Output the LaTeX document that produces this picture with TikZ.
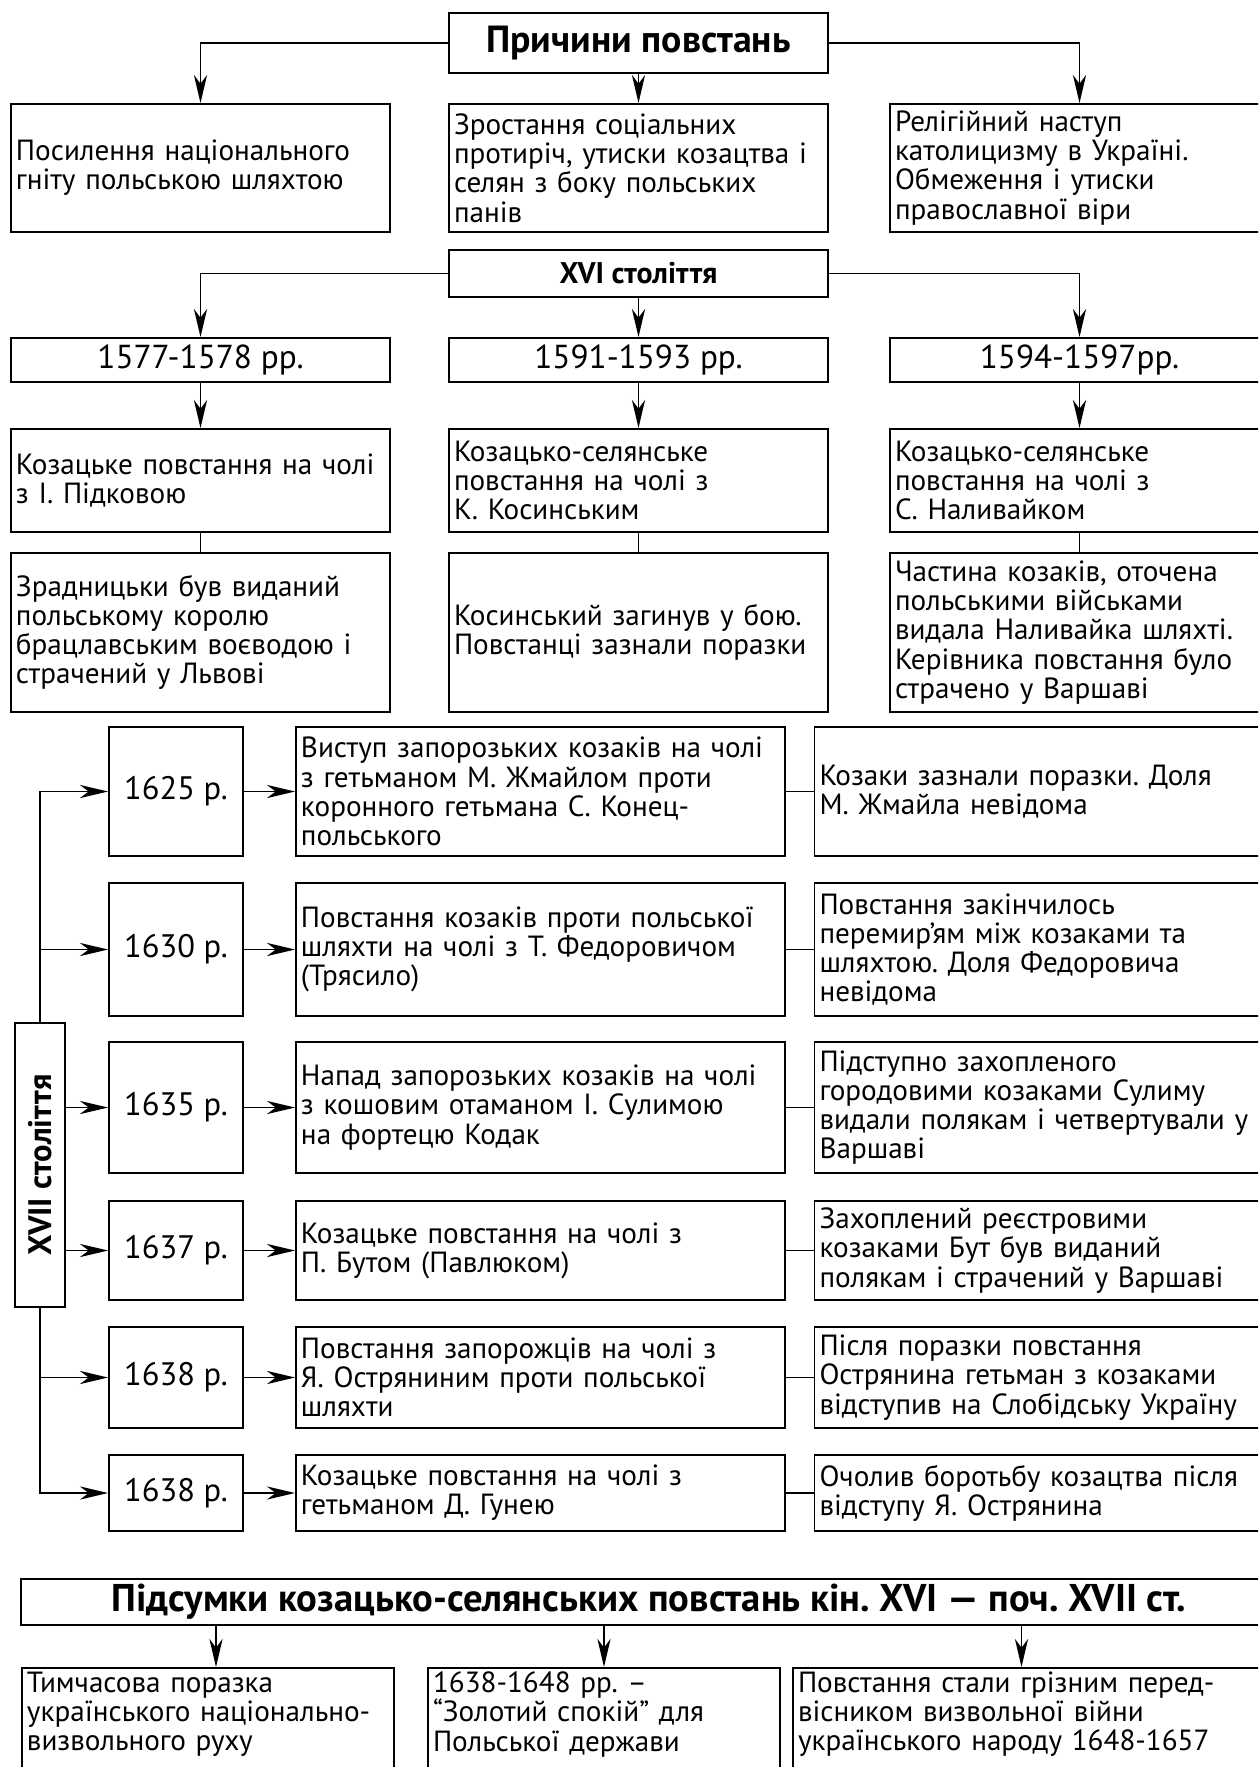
\documentclass[tikz,border=0pt]{standalone}
\usepackage{graphicx}
\usepackage{fontspec}
\setmainfont{PT Sans}
\usetikzlibrary{arrows.meta}
\frenchspacing

\begin{document}
\begin{tikzpicture}[x=0.2mm,y=-0.2mm,line width=1pt,
  >={Stealth[length=16pt,width=7.5pt,inset=5pt]},
  txtbox/.style={draw,line width=1.1pt,inner xsep=1mm,inner ysep=0.8mm,align=left,
    font=\fontsize{16.6}{16.6}\selectfont},
  headbox/.style={draw,line width=1.1pt,inner sep=1mm,font=\bfseries\fontsize{#1}{#1}\selectfont},
  yearbox/.style={draw,line width=1.1pt,inner sep=1mm,font=\fontsize{#1}{#1}\selectfont}]
\useasboundingbox (0,0) rectangle (1258,1767);
\clip (0,0) rectangle (1258,1767);
% Causes of the uprisings
\node[headbox=21.5,minimum width=75.8mm,minimum height=12mm] (cause) at (638.5,43) {Причини повстань};
\node[txtbox,text width=73.8mm,minimum height=25.6mm] (c1) at (200.5,168)
  {Посилення національного\\гніту польською шляхтою};
\node[txtbox,text width=73.8mm,minimum height=25.6mm] (c2) at (638.5,168)
  {Зростання соціальних\\протиріч, утиски козацтва і\\селян з боку польських\\панів};
\node[txtbox,text width=73.8mm,minimum height=25.6mm] (c3) at (1079.5,168)
  {Релігійний наступ\\католицизму в Україні.\\Обмеження і утиски\\православної віри};
\draw[->] (cause.west) -| (c1);
\draw[->] (cause) -- (c2);
\draw[->] (cause.east) -| (c3);
% XVI century
\node[headbox=17,minimum width=75.8mm,minimum height=9.4mm] (c16) at (638.5,273.5) {XVI століття};
\foreach \n/\x/\yr/\who/\fate in {
  1/200.5/{1577-1578 рр.}/{Козацьке повстання на чолі\\з І. Підковою}/
    {Зрадницьки був виданий\\польському королю\\брацлавським воєводою і\\страчений у Львові},
  2/638.5/{1591-1593 рр.}/{Козацько-селянське\\повстання на чолі з\\К. Косинським}/
    {Косинський загинув у бою.\\Повстанці зазнали поразки},
  3/1079.5/{1594-1597рр.}/{Козацько-селянське\\повстання на чолі з\\С. Наливайком}/
    {Частина козаків, оточена\\польськими військами\\видала Наливайка шляхті.\\Керівника повстання було\\страчено у Варшаві}}{
  \node[yearbox=18.9,minimum width=75.8mm,minimum height=8.8mm] (per\n) at (\x,360) {\yr};
  \node[txtbox,text width=73.8mm,minimum height=20.6mm] (lead\n) at (\x,480.5) {\who};
  \node[txtbox,text width=73.8mm,minimum height=31.8mm] (end\n) at (\x,632.5) {\fate};
  \draw[->] (per\n) -- (lead\n);
  \draw (lead\n) -- (end\n);
}
\draw[->] (c16.west) -| (per1);
\draw[->] (c16) -- (per2);
\draw[->] (c16.east) -| (per3);
% XVII century
\node[draw,line width=1.1pt,inner sep=0pt,minimum width=10mm,minimum height=56.8mm,
  font=\bfseries\fontsize{18.5}{18.5}\selectfont] (c17) at (40,1165) {\rotatebox{90}{XVII століття}};
\foreach \yy/\h/\yr/\ev/\res [count=\i] in {
  791.5/25.8/{1625 р.}/{Виступ запорозьких козаків на чолі\\з гетьманом М. Жмайлом проти\\коронного гетьмана С. Конец-\\польського}/
    {Козаки зазнали поразки. Доля\\М. Жмайла невідома},
  949.5/26.6/{1630 р.}/{Повстання козаків проти польської\\шляхти на чолі з Т. Федоровичом\\(Трясило)}/
    {Повстання закінчилось\\перемир’ям між козаками та\\шляхтою. Доля Федоровича\\невідома},
  1107.5/26.2/{1635 р.}/{Напад запорозьких козаків на чолі\\з кошовим отаманом І. Сулимою\\на фортецю Кодак}/
    {Підступно захопленого\\городовими козаками Сулиму\\видали полякам і четвертували у\\Варшаві},
  1250.5/19.8/{1637 р.}/{Козацьке повстання на чолі з\\П. Бутом (Павлюком)}/
    {Захоплений реєстровими\\козаками Бут був виданий\\полякам і страчений у Варшаві},
  1377.5/20.2/{1638 р.}/{Повстання запорожців на чолі з\\Я. Остряниним проти польської\\шляхти}/
    {Після поразки повстання\\Острянина гетьман з козаками\\відступив на Слобідську Україну},
  1493/15.2/{1638 р.}/{Козацьке повстання на чолі з\\гетьманом Д. Гунею}/
    {Очолив боротьбу козацтва після\\відступу Я. Острянина}}{
  \node[yearbox=18.5,minimum width=26.8mm,minimum height=\h mm] (yr\i) at (176,\yy) {\yr};
  \node[txtbox,text width=95.8mm,minimum height=\h mm] (ev\i) at (540.5,\yy) {\ev};
  \node[txtbox,text width=96mm,minimum height=\h mm] (res\i) at (1059.5,\yy) {\res};
  \draw[->] (yr\i) -- (ev\i);
  \draw (ev\i) -- (res\i);
}
\draw[->] (c17.north) |- (yr1);
\draw[->] (c17.north |- yr2) -- (yr2);
\draw[->] (c17.east |- yr3) -- (yr3);
\draw[->] (c17.east |- yr4) -- (yr4);
\draw[->] (c17.south |- yr5) -- (yr5);
\draw[->] (c17.south) |- (yr6);
% Results
\node[headbox=22,minimum width=251.2mm,minimum height=9.2mm] (sum) at (649,1602)
  {Підсумки козацько-селянських повстань кін. XVI — поч. XVII ст.};
\node[txtbox,anchor=north,text width=72.4mm,text depth=15mm] (b1) at (208,1667)
  {Тимчасова поразка\\українського національно-\\визвольного руху};
\node[txtbox,anchor=north,text width=68.4mm,text depth=15mm] (b2) at (604,1667)
  {1638-1648 рр. –\\“Золотий спокій” для\\Польської держави};
\node[txtbox,anchor=north,text width=99.4mm,text depth=15mm] (b3) at (1046.5,1667)
  {Повстання стали грізним перед-\\вісником визвольної війни\\українського народу 1648-1657};
\draw[->] ([xshift=1.6mm]b1.north |- sum.south) -- ([xshift=1.6mm]b1.north);
\draw[->] (b2.north |- sum.south) -- (b2);
\draw[->] ([xshift=-5mm]b3.north |- sum.south) -- ([xshift=-5mm]b3.north);
\end{tikzpicture}
\end{document}
